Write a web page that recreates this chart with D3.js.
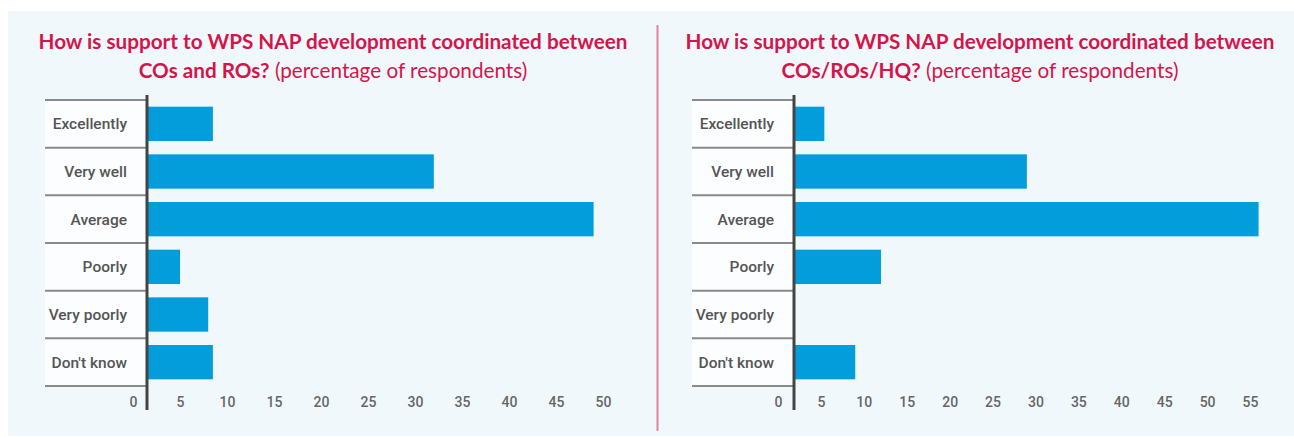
<!DOCTYPE html>
<html>
<head>
<meta charset="utf-8">
<script src="https://cdn.jsdelivr.net/npm/d3@7"></script>
<style>
  body { margin: 0; background: #fff; }
  svg { display: block; }
</style>
</head>
<body>
<div id="wrapper"></div>
<script>
const categories = ['Excellently', 'Very well', 'Average', 'Poorly', 'Very poorly', "Don't know"]

const leftValues = [8.5, 32, 49, 5, 8, 8.5]
const rightValues = [5.4, 29, 56, 12, 0, 9]

const leftTicks = [0, 5, 10, 15, 20, 25, 30, 35, 40, 45, 50]
const rightTicks = [0, 5, 10, 15, 20, 25, 30, 35, 40, 45, 50, 55]

const leftTitleBold = ['How is support to WPS NAP development coordinated between', 'COs and ROs?']
const rightTitleBold = ['How is support to WPS NAP development coordinated between', 'COs/ROs/HQ?']
const titleNote = ' (percentage of respondents)'

const width = 1294
const height = 437

const wrapper = d3.select('#wrapper')
  .append('svg')
    .attr('width', width)
    .attr('height', height)

wrapper.append('rect')
    .attr('x', 8)
    .attr('y', 11)
    .attr('width', width - 8)
    .attr('height', 425)
    .attr('fill', '#f1f8fc')

wrapper.append('line')
    .attr('x1', 657.5)
    .attr('x2', 657.5)
    .attr('y1', 25)
    .attr('y2', 431)
    .attr('stroke', '#e3809c')
    .attr('stroke-width', 2)

function drawPanel(opts) {
  const { values, ticks, titleBold, cx, gridLeft, axisX, zeroX, lastX, lastTick } = opts

  const title = wrapper.append('text')
      .attr('text-anchor', 'middle')
      .attr('fill', '#d5154a')
      .style('font-family', 'Lato, sans-serif')
      .style('font-size', '20.7px')
  title.append('tspan')
      .attr('x', cx)
      .attr('y', 49)
      .attr('font-weight', 700)
      .text(titleBold[0])
  const l2 = title.append('tspan')
      .attr('x', cx)
      .attr('y', 78)
  l2.append('tspan')
      .attr('font-weight', 700)
      .text(titleBold[1])
  l2.append('tspan')
      .attr('font-weight', 400)
      .text(titleNote)

  const yScale = d3.scaleBand()
      .domain(categories)
      .range([100, 386])
      .paddingInner(0.28)
      .paddingOuter(0.14)

  const xScale = d3.scaleLinear()
      .domain([0, lastTick])
      .range([zeroX, lastX])

  // label area
  wrapper.append('rect')
      .attr('x', gridLeft)
      .attr('y', 100)
      .attr('width', axisX - gridLeft)
      .attr('height', 286)
      .attr('fill', '#fbfdfe')

  // row separators
  const step = yScale.step()
  const seps = d3.range(categories.length + 1).map(i => 100 + i * step)
  wrapper.append('g').selectAll('line')
    .data(seps)
    .join('line')
      .attr('x1', gridLeft)
      .attr('x2', axisX)
      .attr('y1', d => d)
      .attr('y2', d => d)
      .attr('stroke', '#8a8a8a')
      .attr('stroke-width', 2)

  // bars
  wrapper.append('g').selectAll('rect')
    .data(values)
    .join('rect')
      .attr('x', axisX)
      .attr('y', (d, i) => yScale(categories[i]))
      .attr('width', d => Math.max(0, xScale(d) - axisX))
      .attr('height', yScale.bandwidth())
      .attr('fill', '#049ddb')
      .attr('opacity', d => d > 0 ? 1 : 0)

  // category labels
  wrapper.append('g').selectAll('text')
    .data(categories)
    .join('text')
      .attr('x', axisX - 20)
      .attr('y', d => yScale(d) + yScale.bandwidth() / 2)
      .attr('dy', '0.35em')
      .attr('text-anchor', 'end')
      .attr('fill', '#555')
      .style('font-family', 'Roboto, sans-serif')
      .style('font-size', '15.5px')
      .style('font-weight', 500)
      .text(d => d)

  // value axis
  const xAxisGenerator = d3.axisBottom()
      .scale(xScale)
      .tickValues(ticks)
      .tickSize(0)
      .tickPadding(0)
  const xAxis = wrapper.append('g')
      .attr('transform', 'translate(0, 397)')
      .call(xAxisGenerator)
  xAxis.select('.domain').remove()
  xAxis.selectAll('text')
      .attr('fill', '#666')
      .style('font-family', 'Roboto, sans-serif')
      .style('font-size', '14px')
      .style('font-weight', 500)

  // vertical axis line
  wrapper.append('line')
      .attr('x1', axisX)
      .attr('x2', axisX)
      .attr('y1', 95)
      .attr('y2', 410)
      .attr('stroke', '#444')
      .attr('stroke-width', 3)
}

drawPanel({
  values: leftValues,
  ticks: leftTicks,
  titleBold: leftTitleBold,
  cx: 333,
  gridLeft: 45,
  axisX: 147,
  zeroX: 133,
  lastX: 603,
  lastTick: 50,
})

drawPanel({
  values: rightValues,
  ticks: rightTicks,
  titleBold: rightTitleBold,
  cx: 980,
  gridLeft: 692,
  axisX: 794,
  zeroX: 778,
  lastX: 1250,
  lastTick: 55,
})
</script>
</body>
</html>
